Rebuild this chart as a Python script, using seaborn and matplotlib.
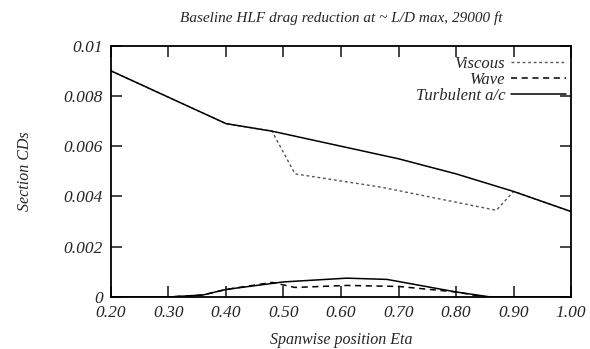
import numpy as np
import pandas as pd
import matplotlib
matplotlib.use('Agg')
import matplotlib.pyplot as plt
import seaborn as sns

# spanwise stations
eta_turb = [0.20, 0.40, 0.48, 0.60, 0.70, 0.80, 0.90, 1.00]
cd_turb_visc = [0.0090, 0.0069, 0.0066, 0.0060, 0.0055, 0.0049, 0.0042, 0.0034]

eta_visc = [0.20, 0.40, 0.48, 0.52, 0.67, 0.87, 0.90, 1.00]
cd_visc = [0.0090, 0.0069, 0.0066, 0.0049, 0.00437, 0.00345, 0.0042, 0.0034]

eta_wave = [0.20, 0.30, 0.36, 0.40, 0.48, 0.52, 0.61, 0.70, 0.80, 0.85, 0.90, 1.00]
cd_wave = [0.0, 0.0, 0.00008, 0.0003, 0.00058, 0.00038, 0.00046, 0.00042, 0.0002, 0.0, 0.0, 0.0]

eta_turb_w = [0.20, 0.30, 0.36, 0.40, 0.50, 0.61, 0.68, 0.80, 0.86, 1.00]
cd_turb_wave = [0.0, 0.0, 0.00008, 0.0003, 0.0006, 0.00075, 0.0007, 0.0002, 0.0, 0.0]

sns.set_style('ticks')
plt.rcParams['font.family'] = ['Liberation Serif', 'DejaVu Serif']
plt.rcParams['font.style'] = 'italic'

fig = plt.figure(figsize=(5.9, 3.49), dpi=100)
ax = fig.add_axes([0.188, 0.149, 0.780, 0.720])

sns.lineplot(x=eta_visc, y=cd_visc, ax=ax, color='#555555', lw=1.0,
             linestyle=(0, (2, 2)), label='Viscous')
sns.lineplot(x=eta_wave, y=cd_wave, ax=ax, color='black', lw=1.1,
             linestyle=(0, (4, 3)), label='Wave')
sns.lineplot(x=eta_turb, y=cd_turb_visc, ax=ax, color='black', lw=1.1,
             label='Turbulent a/c')
sns.lineplot(x=eta_turb_w, y=cd_turb_wave, ax=ax, color='black', lw=1.1)

ax.set_xlim(0.2, 1.0)
ax.set_ylim(0, 0.01)
ax.set_xticks(np.arange(0.2, 1.01, 0.1))
ax.set_xticklabels(['%.2f' % v for v in np.arange(0.2, 1.01, 0.1)])
ax.set_yticks([0, 0.002, 0.004, 0.006, 0.008, 0.01])
ax.set_yticklabels(['0', '0.002', '0.004', '0.006', '0.008', '0.01'])
ax.tick_params(direction='in', length=8, width=1.2, top=True, right=True,
               labelsize=12.5, pad=6)
for s in ax.spines.values():
    s.set_linewidth(1.3)
    s.set_color('black')

ax.set_xlabel('Spanwise position Eta', fontsize=11.5, labelpad=8)
ax.set_ylabel('Section CDs', fontsize=11.5, labelpad=22)
ax.set_title('Baseline HLF drag reduction at ~ L/D max, 29000 ft',
             fontsize=11, pad=17)

ax.legend(loc='upper right', frameon=False, markerfirst=False, fontsize=12,
          handlelength=3.3, handletextpad=0.35, labelspacing=0.0,
          borderpad=0, borderaxespad=0, bbox_to_anchor=(0.989, 0.96))

fig.savefig('out.png', dpi=100)
